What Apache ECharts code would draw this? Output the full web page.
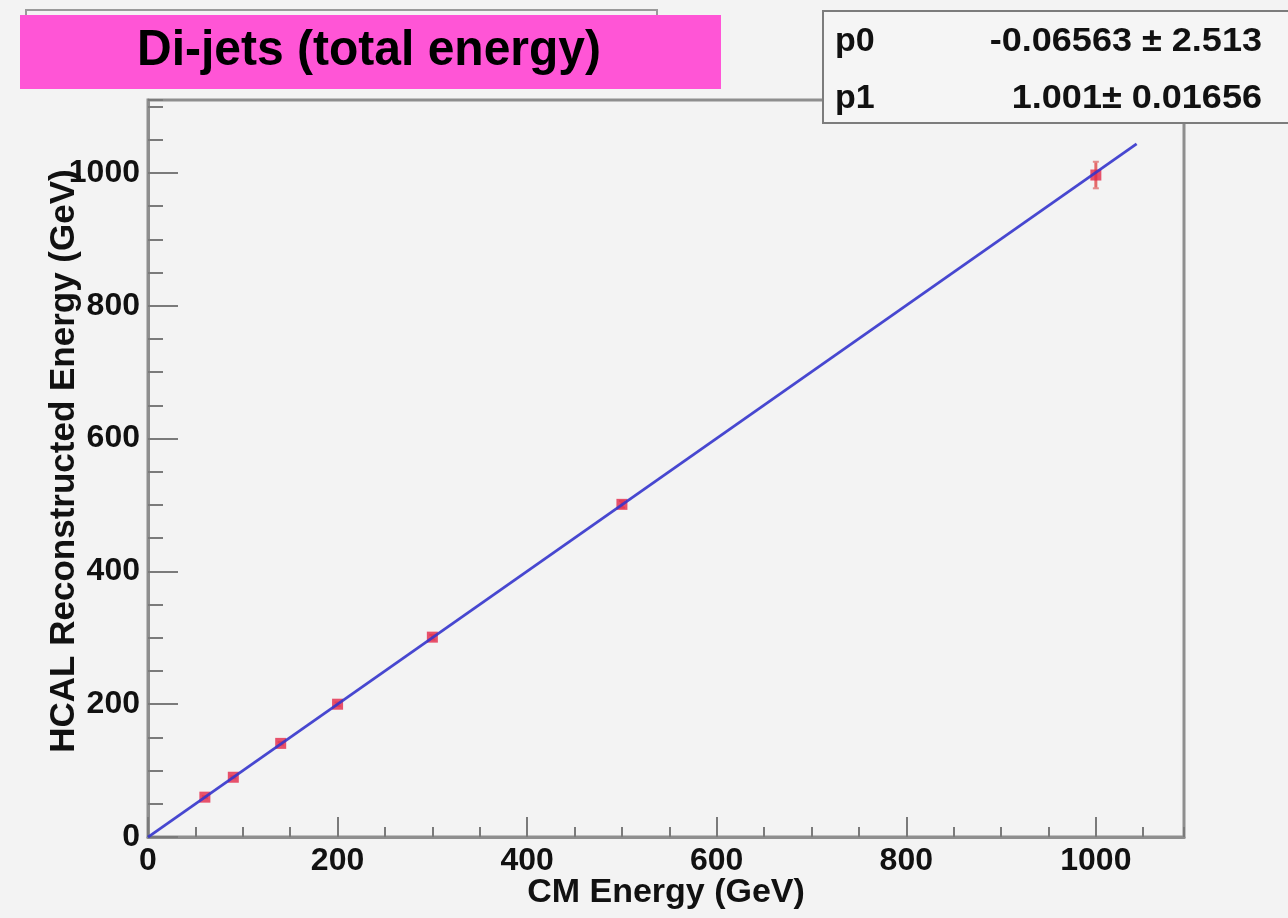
<!DOCTYPE html>
<html>
<head>
<meta charset="utf-8">
<script src="https://cdn.jsdelivr.net/npm/echarts@6/dist/echarts.min.js"></script>
<style>
html,body{margin:0;padding:0;background:#f3f3f3;}
#chart{width:1288px;height:918px;}
</style>
</head>
<body>
<div id="chart"></div>
<script>
// ---- data ----
const cmEnergy   = [60, 90, 140, 200, 300, 500, 1000];
const hcalEnergy = [60, 90, 141, 200, 301, 501, 997];
const hcalError  = [1.5, 1.5, 2, 2.5, 3.5, 5, 20];
const fitX = [0, 1043];
const fitY = [-0.07, 1044];
const xTickLabels = [0, 200, 400, 600, 800, 1000];
const yTickLabels = [0, 200, 400, 600, 800, 1000];
const titleText = 'Di-jets (total energy)';
const statNames = ['p0', 'p1'];
const statValues = ['-0.06563 \u00b1 2.513', '1.001\u00b1 0.01656'];
const xName = 'CM Energy (GeV)';
const yName = 'HCAL Reconstructed Energy (GeV)';

const X_MAX = 1093, Y_MAX = 1110;
const FONT = '"Liberation Sans", Arial, Helvetica, sans-serif';
const frameColor = '#8e8e8e';
const tickColor = '#7a7a7a';

const points = cmEnergy.map((x, i) => [x, hcalEnergy[i]]);
const errs = cmEnergy.map((x, i) => [x, hcalEnergy[i] - hcalError[i], hcalEnergy[i] + hcalError[i]]);
const fitLine = fitX.map((x, i) => [x, fitY[i]]);

const chart = echarts.init(document.getElementById('chart'), null, {renderer: 'canvas'});

function labelFmt(list) {
  return function (v) { return list.indexOf(v) >= 0 ? String(v) : ''; };
}

const option = {
  backgroundColor: '#f3f3f3',
  animation: false,
  grid: {
    left: 148, top: 100, right: 104, bottom: 81,
    show: true, borderColor: frameColor, borderWidth: 3, backgroundColor: 'transparent'
  },
  xAxis: [
    {
      type: 'value', min: 0, max: X_MAX, interval: 200, position: 'bottom',
      axisLine: {show: true, lineStyle: {color: frameColor, width: 3}},
      axisTick: {show: true, inside: true, length: 20, lineStyle: {color: tickColor, width: 2}},
      axisLabel: {show: true, showMaxLabel: false, formatter: labelFmt(xTickLabels),
        color: '#111', fontFamily: FONT, fontWeight: 'bold', fontSize: 32, margin: 8},
      splitLine: {show: false}
    },
    {
      type: 'value', min: 0, max: X_MAX, interval: 50, position: 'bottom',
      axisLine: {show: false},
      axisTick: {show: true, inside: true, length: 10, lineStyle: {color: tickColor, width: 2}},
      axisLabel: {show: false},
      splitLine: {show: false}
    }
  ],
  yAxis: [
    {
      type: 'value', min: 0, max: Y_MAX, interval: 200, position: 'left',
      axisLine: {show: true, lineStyle: {color: frameColor, width: 3}},
      axisTick: {show: true, inside: true, length: 30, lineStyle: {color: tickColor, width: 2}},
      axisLabel: {show: true, showMaxLabel: false, formatter: labelFmt(yTickLabels),
        color: '#111', fontFamily: FONT, fontWeight: 'bold', fontSize: 32, margin: 8},
      splitLine: {show: false}
    },
    {
      type: 'value', min: 0, max: Y_MAX, interval: 50, position: 'left',
      axisLine: {show: false},
      axisTick: {show: true, inside: true, length: 15, lineStyle: {color: tickColor, width: 2}},
      axisLabel: {show: false},
      splitLine: {show: false}
    }
  ],
  series: [
    {
      type: 'custom', name: 'errors', xAxisIndex: 0, yAxisIndex: 0, z: 2,
      data: errs,
      renderItem: function (params, api) {
        const x = api.value(0);
        const lo = api.coord([x, api.value(1)]);
        const hi = api.coord([x, api.value(2)]);
        return {
          type: 'group',
          children: [
            {type: 'line', shape: {x1: lo[0], y1: lo[1], x2: hi[0], y2: hi[1]},
             style: {stroke: '#e46a6a', lineWidth: 3}},
            {type: 'line', shape: {x1: lo[0] - 3, y1: lo[1], x2: lo[0] + 3, y2: lo[1]},
             style: {stroke: '#e48a8a', lineWidth: 2}},
            {type: 'line', shape: {x1: hi[0] - 3, y1: hi[1], x2: hi[0] + 3, y2: hi[1]},
             style: {stroke: '#e48a8a', lineWidth: 2}}
          ]
        };
      }
    },
    {
      type: 'scatter', name: 'points', xAxisIndex: 0, yAxisIndex: 0, z: 3,
      symbol: 'rect', symbolSize: 11,
      itemStyle: {color: '#e42848'},
      data: points
    },
    {
      type: 'line', name: 'fit', xAxisIndex: 0, yAxisIndex: 0, z: 4,
      showSymbol: false, symbol: 'none',
      lineStyle: {color: '#3434cc', width: 2.8, opacity: 0.9},
      data: fitLine
    }
  ],
  graphic: [
    // partially hidden ROOT title pave
    {type: 'rect', z: 10, shape: {x: 26, y: 10, width: 631, height: 40},
     style: {fill: '#f3f3f3', stroke: '#9a9a9a', lineWidth: 2}},
    // pink title box
    {type: 'rect', z: 11, shape: {x: 20, y: 15, width: 701, height: 74},
     style: {fill: '#ff55d6'}},
    {type: 'text', z: 12, x: 369, y: 51, scaleX: 0.96,
     style: {text: titleText, fill: '#000', font: 'bold 50px ' + FONT,
             textAlign: 'center', textVerticalAlign: 'middle'}},
    // stats box
    {type: 'rect', z: 10, shape: {x: 823, y: 11, width: 480, height: 112},
     style: {fill: '#f5f5f5', stroke: '#7c7c7c', lineWidth: 2}},
    {type: 'text', z: 12, x: 835, y: 42,
     style: {text: statNames[0], fill: '#111', font: 'bold 34px ' + FONT,
             textAlign: 'left', textVerticalAlign: 'middle'}},
    {type: 'text', z: 12, x: 1262, y: 42, scaleX: 1.06,
     style: {text: statValues[0], fill: '#111', font: 'bold 34px ' + FONT,
             textAlign: 'right', textVerticalAlign: 'middle'}},
    {type: 'text', z: 12, x: 835, y: 99,
     style: {text: statNames[1], fill: '#111', font: 'bold 34px ' + FONT,
             textAlign: 'left', textVerticalAlign: 'middle'}},
    {type: 'text', z: 12, x: 1262, y: 99, scaleX: 1.06,
     style: {text: statValues[1], fill: '#111', font: 'bold 34px ' + FONT,
             textAlign: 'right', textVerticalAlign: 'middle'}},
    // axis titles
    {type: 'text', z: 12, x: 666, y: 893,
     style: {text: xName, fill: '#111', font: 'bold 34px ' + FONT,
             textAlign: 'center', textVerticalAlign: 'middle'}},
    {type: 'text', z: 12, x: 64, y: 461, rotation: Math.PI / 2,
     style: {text: yName, fill: '#111', font: 'bold 35px ' + FONT,
             textAlign: 'center', textVerticalAlign: 'middle'}}
  ]
};
chart.setOption(option);
</script>
</body>
</html>
